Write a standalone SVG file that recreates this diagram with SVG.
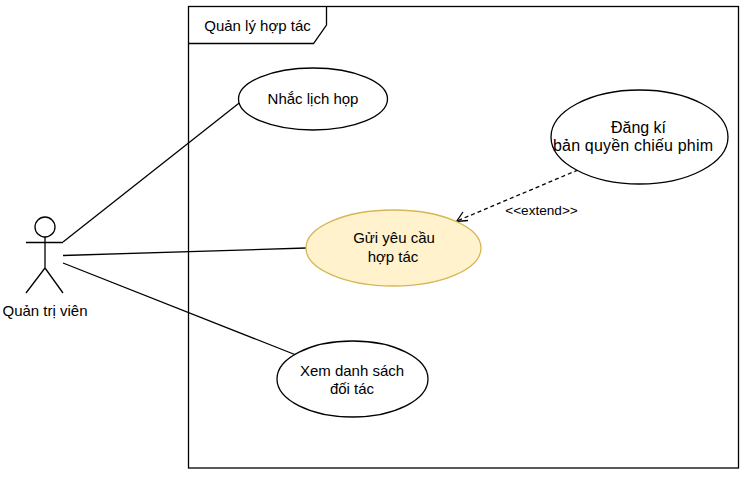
<svg xmlns="http://www.w3.org/2000/svg" width="742" height="482" viewBox="0 0 742 482">
<style>
text{font-family:"Liberation Sans",Arial,sans-serif;font-size:15px;fill:#000;text-anchor:middle}
.s{fill:none;stroke:#000;stroke-width:1.3}
.e{fill:#fff;stroke:#000;stroke-width:1.3}
.b{font-size:16px}
</style>
<rect width="742" height="482" fill="#fff"/>
<g id="frame">
<rect x="188.500" y="6.500" width="550" height="461.500" class="s"/>
<path d="M188.500 43.500H313.500L326.500 25V6.500" class="s"/>
<text x="257.500" y="31">Quản lý hợp tác</text>
</g>
<g id="connectors">
<path d="M63 242L243 100" class="s"/>
<path d="M63 255.500L306 248" class="s"/>
<path d="M63 263L296 355" class="s"/>
<path d="M578 170L457 221" class="s" stroke-dasharray="4 3"/>
<path d="M468 220.500L456.500 221.500L463 212" class="s"/>
<text x="541.500" y="215" style="font-size:13.600px">&lt;&lt;extend&gt;&gt;</text>
</g>
<g id="actor">
<circle cx="45" cy="227" r="10" class="e"/>
<path d="M45 237V268M26 242.500H63M45 268L26 293M45 268L63 293" class="s"/>
<text x="45" y="316">Quản trị viên</text>
</g>
<g id="uc1">
<ellipse cx="313" cy="99" rx="74.500" ry="31" class="e"/>
<text x="313" y="104">Nhắc lịch họp</text>
</g>
<g id="uc2">
<ellipse cx="639.500" cy="137" rx="88.500" ry="47" class="e"/>
<text x="638.500" y="133" class="b">Đăng kí</text>
<text x="633" y="151" class="b" textLength="160" lengthAdjust="spacing">bản quyền chiếu phim</text>
</g>
<g id="uc3">
<ellipse cx="393.500" cy="248" rx="87.500" ry="38" fill="#fff2cc" stroke="#d6b656" stroke-width="1.300"/>
<text x="394" y="243">Gửi yêu cầu</text>
<text x="393" y="262">hợp tác</text>
</g>
<g id="uc4">
<ellipse cx="352.500" cy="379" rx="75.500" ry="38" class="e"/>
<text x="352" y="376">Xem danh sách</text>
<text x="352" y="394">đối tác</text>
</g>
</svg>
